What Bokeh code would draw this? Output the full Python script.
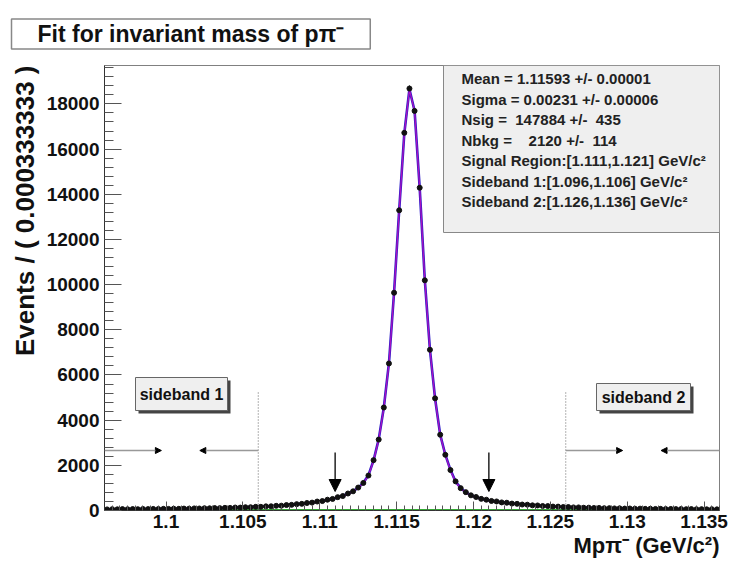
import math
import numpy as np
from bokeh.plotting import figure
from bokeh.models import (Range1d, SingleIntervalTicker, CustomJSTickFormatter, PrintfTickFormatter,
                          Label, BoxAnnotation, Arrow, NormalHead, ColumnDataSource, Title)
from bokeh.embed import file_html
from bokeh.resources import INLINE

# ---------------- data ----------------
x_min, x_max = 1.096, 1.136
n_bins = 120
y_max = 19700

counts = [49, 58, 52, 61, 55, 63, 57, 66, 62, 70,
          66, 74, 71, 80, 75, 85, 81, 92, 89, 99,
          97, 108, 105, 118, 116, 131, 129, 145, 144, 162,
          163, 183, 186, 208, 214, 241, 250, 282, 295, 332,
          349, 397, 418, 478, 512, 590, 641, 752, 849, 1015,
          1220, 1548, 2230, 3140, 4560, 6510, 9640, 13290, 16720, 18680,
          17690, 14290, 10190, 7115, 4965, 3355, 2465, 1790, 1290, 990,
          812, 671, 598, 516, 478, 422, 401, 358, 344, 306,
          296, 264, 257, 228, 223, 199, 196, 174, 172, 154,
          153, 137, 137, 122, 124, 110, 113, 100, 104, 92,
          96, 85, 89, 79, 83, 73, 77, 69, 73, 65,
          69, 61, 65, 58, 62, 55, 60, 52, 57, 50]

fit_total = [52, 54, 55, 57, 58, 60, 61, 63, 65, 67,
             69, 71, 74, 76, 79, 82, 85, 88, 92, 96,
             100, 104, 109, 114, 120, 126, 133, 140, 148, 157,
             167, 178, 190, 203, 218, 235, 255, 275, 300, 325,
             355, 390, 425, 470, 520, 580, 650, 740, 860, 1000,
             1230, 1560, 2220, 3150, 4550, 6520, 9650, 13300, 16700, 18650,
             17700, 14280, 10200, 7120, 4960, 3360, 2470, 1800, 1280, 1000,
             800, 680, 590, 525, 470, 430, 395, 365, 338, 313,
             290, 270, 251, 234, 218, 204, 191, 179, 168, 158,
             149, 141, 133, 126, 120, 114, 109, 104, 100, 96,
             92, 88, 85, 82, 79, 76, 74, 72, 70, 68,
             66, 64, 62, 61, 59, 58, 57, 55, 54, 53]

bkg_x = [1.096, 1.136]
bkg_y = [18, 17]

signal_region = [1.111, 1.121]
sideband1 = [1.096, 1.106]
sideband2 = [1.126, 1.136]

stats_lines = ["Mean = 1.11593 +/- 0.00001",
               "Sigma = 0.00231 +/- 0.00006",
               "Nsig =  147884 +/-  435",
               "Nbkg =    2120 +/-  114",
               "Signal Region:[1.111,1.121] GeV/c\u00b2",
               "Sideband 1:[1.096,1.106] GeV/c\u00b2",
               "Sideband 2:[1.126,1.136] GeV/c\u00b2"]

title_text = "Fit for invariant mass of p\u03c0\u207b"
y_title = "Events / ( 0.000333333 )"
x_title = "Mp\u03c0\u207b (GeV/c\u00b2)"

# ---------------- layout helpers ----------------
W, H = 732, 564
L, R, T, B = 104, 719, 65, 510
FONT = "Liberation Sans"


def dx(px):
    return x_min + (px - L) / (R - L) * (x_max - x_min)


def dy(py):
    return (B - py) / (B - T) * y_max


def try_set(obj, **kw):
    for k, v in kw.items():
        try:
            setattr(obj, k, v)
        except Exception:
            pass


def keep_spaces(s):
    return s.replace("  ", "\u00a0\u00a0").replace("\u00a0 ", "\u00a0\u00a0")


bw = (x_max - x_min) / n_bins
centers = x_min + (np.arange(n_bins) + 0.5) * bw
counts_a = np.array(counts, dtype=float)
fit_a = np.array(fit_total, dtype=float)
bkg_at = np.interp(centers, bkg_x, bkg_y)
sig_a = fit_a - bkg_at
err = np.sqrt(counts_a)

src = ColumnDataSource(dict(x=centers, y=counts_a, lo=counts_a - err, hi=counts_a + err,
                            fit=fit_a, sig=sig_a))

p = figure(width=W, height=H, x_range=Range1d(x_min, x_max), y_range=Range1d(0, y_max),
           output_backend="svg", toolbar_location=None,
           min_border_left=L, min_border_right=W - R, min_border_top=T, min_border_bottom=H - B)
p.background_fill_color = "white"
p.border_fill_color = "white"
p.xgrid.visible = False
p.ygrid.visible = False
p.outline_line_color = "#808080"
p.outline_line_width = 1

# title (boxed, top-left)
p.title.text = title_text
p.title.align = "left"
p.title.text_font = FONT
p.title.text_font_style = "bold"
p.title.text_font_size = "23px"
p.title.text_color = "#111111"
p.title.offset = -93
p.title.standoff = 33
try_set(p.title, border_line_color="#888888", border_line_width=1.5,
        background_fill_color="white")
try:
    p.title.padding = dict(left=26, right=26, top=2, bottom=2)
except Exception:
    try_set(p.title, padding=3)

p.xaxis.ticker = SingleIntervalTicker(interval=0.005, num_minor_ticks=10)
p.xaxis.formatter = CustomJSTickFormatter(code="return parseFloat(tick.toFixed(5)).toString();")
p.yaxis.ticker = SingleIntervalTicker(interval=2000, num_minor_ticks=5)
p.yaxis.formatter = PrintfTickFormatter(format="%d")
for ax in (p.xaxis[0], p.yaxis[0]):
    ax.major_label_text_font = FONT
    ax.major_label_text_font_style = "bold"
    ax.major_label_text_font_size = "19px"
    ax.major_label_text_color = "#111111"
    ax.axis_line_color = "#333333"
    ax.major_tick_line_color = "#555555"
    ax.minor_tick_line_color = "#555555"
    ax.major_tick_out = 0
    ax.minor_tick_out = 0
p.xaxis.major_tick_in = 9
p.xaxis.minor_tick_in = 5
p.xaxis.major_label_standoff = 4
p.yaxis.major_tick_in = 17
p.yaxis.minor_tick_in = 9
p.yaxis.major_label_standoff = 5

# axis titles, aligned to the axis ends (as in ROOT)
p.add_layout(Title(text=y_title, align="right", text_font=FONT, text_font_style="bold",
                   text_font_size="26px", text_color="#111111", standoff=8), "left")
p.add_layout(Title(text=x_title, align="right", text_font=FONT, text_font_style="bold",
                   text_font_size="22px", text_color="#111111", standoff=0), "below")

# sideband dotted boundaries
edges = [sideband1[1], sideband2[0]]
p.segment(x0=edges, y0=[0, 0], x1=edges, y1=[dy(390), dy(390)],
          line_color="#666666", line_dash="1 2", line_width=1)

# error bars, fit curves, points
p.segment(x0="x", y0="lo", x1="x", y1="hi", source=src, line_color="black", line_width=1)
p.line(bkg_x, bkg_y, line_color="#33aa33", line_width=2)
p.line("x", "fit", source=src, line_color="#2a1ac8", line_width=2.6)
p.line("x", "sig", source=src, line_color="#c010c0", line_width=1.3, line_alpha=0.85)
p.scatter("x", "y", source=src, size=5, color="#111111")

# horizontal arrows in sidebands
ya = dy(450)
for lo, hi in (sideband1, sideband2):
    w = hi - lo
    p.add_layout(Arrow(end=NormalHead(size=6, fill_color="black", line_color="black"),
                       x_start=lo, y_start=ya, x_end=lo + 0.37 * w, y_end=ya,
                       line_color="#999999", line_width=1.5))
    p.add_layout(Arrow(end=NormalHead(size=6, fill_color="black", line_color="black"),
                       x_start=hi, y_start=ya, x_end=hi - 0.38 * w, y_end=ya,
                       line_color="#999999", line_width=1.5))

# vertical arrows at signal region edges
for xe in signal_region:
    p.add_layout(Arrow(end=NormalHead(size=12, fill_color="black", line_color="black"),
                       x_start=xe, y_start=dy(452), x_end=xe, y_end=dy(491),
                       line_color="black", line_width=1.3))

# sideband labels with shadow
for (l, r, t, b, txt) in ((135, 227, 377, 410, "sideband 1"), (596, 690, 383, 410, "sideband 2")):
    p.add_layout(BoxAnnotation(left=dx(l + 3), right=dx(r + 3), top=dy(t + 3), bottom=dy(b + 3),
                               fill_color="#444444", fill_alpha=1, line_alpha=0))
    p.add_layout(BoxAnnotation(left=dx(l), right=dx(r), top=dy(t), bottom=dy(b),
                               fill_color="#efefef", fill_alpha=1, line_color="#666666",
                               line_alpha=1, line_width=1))
    p.add_layout(Label(x=dx((l + r) / 2), y=dy((t + b) / 2), text=txt, text_align="center",
                       text_baseline="middle", text_font=FONT, text_font_style="bold",
                       text_font_size="16px", text_color="#111111"))

# stats box
p.add_layout(BoxAnnotation(left=dx(443), right=x_max, top=y_max, bottom=dy(232),
                           fill_color="#efefef", fill_alpha=1, line_color="#888888",
                           line_alpha=1, line_width=1))
for i, line in enumerate(stats_lines):
    p.add_layout(Label(x=dx(461), y=dy(78 + 20.5 * i), text=keep_spaces(line), text_align="left",
                       text_baseline="middle", text_font=FONT, text_font_style="bold",
                       text_font_size="15px", text_color="#222222"))

open("out.html", "w").write(file_html(p, INLINE))
